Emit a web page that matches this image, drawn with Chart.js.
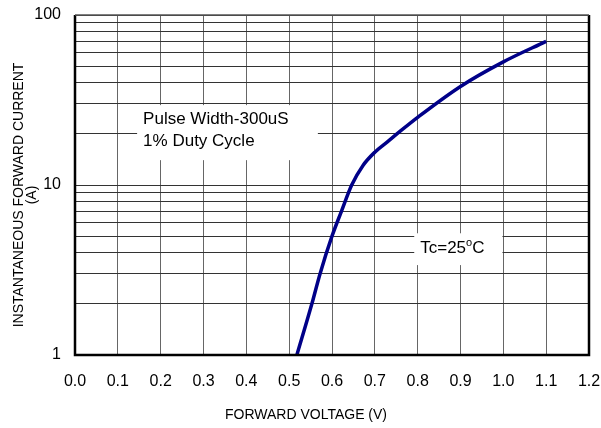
<!DOCTYPE html>
<html>
<head>
<meta charset="utf-8">
<script src="https://cdn.jsdelivr.net/npm/chart.js@4.4.1/dist/chart.umd.min.js"></script>
<style>
  html, body { margin: 0; padding: 0; background: #fff; }
</style>
</head>
<body>
<canvas id="ivChart" width="601" height="428"></canvas>
<script>
const FONT = "'Liberation Sans', Arial, Helvetica, sans-serif";

// forward voltage (V) against instantaneous forward current (A)
const voltage = [0.518, 0.553, 0.572, 0.600, 0.622, 0.646, 0.672, 0.700, 0.730, 0.760, 0.800, 0.900, 1.000, 1.100];
const current = [1, 2, 3, 5, 7, 10, 13, 15.6, 18, 20.8, 25, 38, 53, 70];

// axes
const xTicks = [0.0, 0.1, 0.2, 0.3, 0.4, 0.5, 0.6, 0.7, 0.8, 0.9, 1.0, 1.1, 1.2];
const yGrid = [1, 2, 3, 4, 5, 6, 7, 8, 9, 10, 20, 30, 40, 50, 60, 70, 80, 90, 100];
const yLabels = [1, 10, 100];

const xTitle = 'FORWARD VOLTAGE (V)';
const yTitle = ['INSTANTANEOUS FORWARD CURRENT', '(A)'];
const noteLines = ['Pulse Width-300uS', '1% Duty Cycle'];

// note boxes, in data units (V, A)
const noteBox = { x0: 0.145, x1: 0.567, y0: 14, y1: 29.5, tx: 0.159 };
const tempBox = { x0: 0.792, x1: 0.998, y0: 3.38, y1: 5.2, tx: 0.806, ty: 4.3 };

const extras = {
  id: 'extras',
  beforeDatasetsDraw(chart) {
    const { ctx, scales: { x, y } } = chart;
    ctx.save();
    ctx.fillStyle = '#fff';
    [noteBox, tempBox].forEach(b => {
      const l = x.getPixelForValue(b.x0), r = x.getPixelForValue(b.x1);
      const t = y.getPixelForValue(b.y1), btm = y.getPixelForValue(b.y0);
      ctx.fillRect(l, t, r - l, btm - t);
    });

    ctx.fillStyle = '#000';
    ctx.font = '17px ' + FONT;
    ctx.textBaseline = 'alphabetic';
    ctx.textAlign = 'left';
    const nx = x.getPixelForValue(noteBox.tx);
    const ntop = y.getPixelForValue(noteBox.y1);
    ctx.fillText(noteLines[0], nx, ntop + 19);
    ctx.fillText(noteLines[1], nx, ntop + 41);

    // Tc=25°C with a raised small o
    let tx = x.getPixelForValue(tempBox.tx);
    const ty = y.getPixelForValue(tempBox.ty) + 6;
    ctx.fillText('Tc=25', tx, ty);
    tx += ctx.measureText('Tc=25').width;
    ctx.font = '11px ' + FONT;
    ctx.fillText('o', tx, ty - 7);
    tx += ctx.measureText('o').width;
    ctx.font = '17px ' + FONT;
    ctx.fillText('C', tx, ty);
    ctx.restore();
  },
  afterDatasetsDraw(chart) {
    const { ctx, chartArea: a } = chart;
    ctx.save();
    ctx.strokeStyle = '#000';
    ctx.lineWidth = 2.5;
    ctx.beginPath();
    ctx.moveTo(a.left, a.top);
    ctx.lineTo(a.left, a.bottom);
    ctx.lineTo(a.right, a.bottom);
    ctx.lineTo(a.right, a.top);
    ctx.stroke();
    ctx.strokeStyle = '#555';
    ctx.lineWidth = 1.5;
    ctx.beginPath();
    ctx.moveTo(a.left, a.top);
    ctx.lineTo(a.right, a.top);
    ctx.stroke();

    // axis titles
    ctx.fillStyle = '#000';
    ctx.font = '14px ' + FONT;
    ctx.textAlign = 'center';
    ctx.textBaseline = 'middle';
    ctx.fillText(xTitle, 306, 415);
    const cy = (a.top + a.bottom) / 2 + 10;
    ctx.translate(19, cy);
    ctx.rotate(-Math.PI / 2);
    ctx.fillText(yTitle[0], 0, 0);
    ctx.fillText(yTitle[1], 0, 13);
    ctx.restore();
  }
};

new Chart(document.getElementById('ivChart'), {
  type: 'line',
  data: {
    datasets: [{
      data: voltage.map((v, i) => ({ x: v, y: current[i] })),
      borderColor: '#000088',
      borderWidth: 3.5,
      pointRadius: 0,
      cubicInterpolationMode: 'monotone',
      fill: false
    }]
  },
  options: {
    responsive: false,
    animation: false,
    layout: { padding: { top: 15, right: 12, left: 0, bottom: 0 } },
    plugins: { legend: { display: false }, tooltip: { enabled: false } },
    scales: {
      x: {
        type: 'linear',
        min: 0,
        max: 1.2,
        afterBuildTicks: s => { s.ticks = xTicks.map(v => ({ value: v })); },
        afterFit: s => { s.height = 73; s.paddingLeft = 0; s.paddingRight = 0; },
        ticks: {
          autoSkip: false,
          maxRotation: 0,
          padding: 17,
          color: '#000',
          font: { family: FONT, size: 16 },
          callback: v => Number(v).toFixed(1)
        },
        grid: { color: '#666', lineWidth: 1, drawTicks: false },
        border: { display: false }
      },
      y: {
        type: 'logarithmic',
        min: 1,
        max: 100,
        afterBuildTicks: s => { s.ticks = yGrid.map(v => ({ value: v })); },
        afterFit: s => { s.width = 75; s.paddingTop = 0; s.paddingBottom = 0; },
        ticks: {
          autoSkip: false,
          padding: 14,
          color: '#000',
          font: { family: FONT, size: 16 },
          callback: v => yLabels.includes(v) ? String(v) : ''
        },
        grid: { color: '#333', lineWidth: 1, drawTicks: false },
        border: { display: false }
      }
    }
  },
  plugins: [extras]
});
</script>
</body>
</html>
